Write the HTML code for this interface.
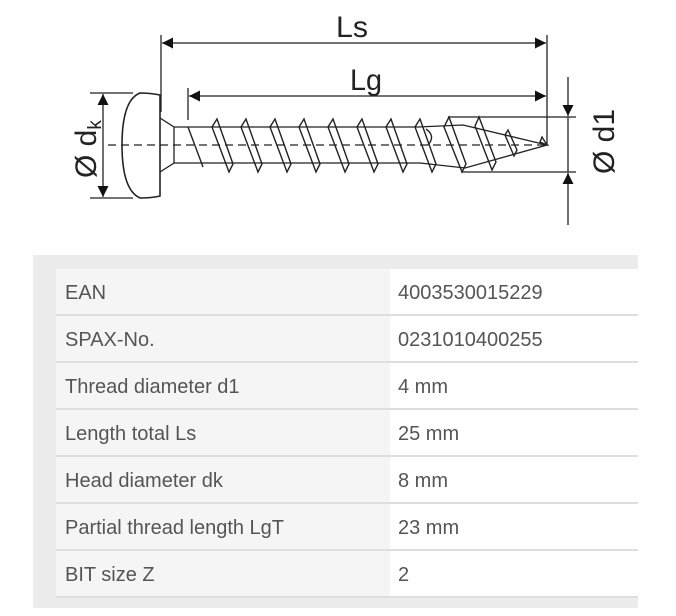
<!DOCTYPE html>
<html><head><style>
body{margin:0;background:#fff;width:676px;height:616px;overflow:hidden;font-family:"Liberation Sans",sans-serif;}
.panel{position:absolute;left:33px;top:255px;width:605px;height:353px;background:#ececec;}
.r{position:absolute;left:56px;width:582px;height:45px;border-bottom:2px solid #dedede;font-size:20px;color:#555;}
.a,.b{position:absolute;top:0;height:45px;line-height:48px;}
.a{left:0;width:334px;background:#f5f5f5;padding-left:9px;box-sizing:border-box;}
.b{left:334px;width:248px;background:#fff;padding-left:8px;box-sizing:border-box;}
</style></head><body>
<svg width="676" height="250" style="position:absolute;left:0;top:0" xmlns="http://www.w3.org/2000/svg">
<defs><marker id="ar" viewBox="0 0 10 10" refX="10" refY="5" markerWidth="17" markerHeight="11" markerUnits="userSpaceOnUse" orient="auto-start-reverse"><path d="M0,0L10,5L0,10z" fill="#111"/></marker></defs>
<g stroke="#222" stroke-width="1.3" fill="none">
<line x1="161" y1="35" x2="161" y2="112"/>
<line x1="547" y1="35" x2="547" y2="145"/>
<line x1="188" y1="88" x2="188" y2="120"/>
<line x1="162" y1="43" x2="546" y2="43" marker-start="url(#ar)" marker-end="url(#ar)"/>
<line x1="189" y1="96" x2="546" y2="96" marker-start="url(#ar)" marker-end="url(#ar)"/>
<line x1="90" y1="93" x2="133" y2="93"/><line x1="90" y1="198" x2="133" y2="198"/>
<line x1="103" y1="94" x2="103" y2="197" marker-start="url(#ar)" marker-end="url(#ar)"/>
<line x1="448" y1="117" x2="576" y2="117"/><line x1="462" y1="172" x2="576" y2="172"/>
<line x1="568" y1="77" x2="568" y2="116" marker-end="url(#ar)"/>
<line x1="568" y1="225" x2="568" y2="173" marker-end="url(#ar)"/>
<line x1="568" y1="117" x2="568" y2="172"/>
<path d="M160,95 Q150,93 140,93 Q122,100 122,145 Q122,190 140,198 Q152,198 160,196 Z" stroke-width="1.6"/>
<path d="M160,118 L174,127 L174,163 L160,172"/>
<path d="M174,127 L418,127 L463,125 L547,145 L465,168 L420,163 L174,163"/>
<line x1="108" y1="145" x2="545" y2="145" stroke-dasharray="8,5"/>
<g stroke-width="1.4">
<path d="M188,127 L203,167"/>
<path d="M217,119 L212,127 L229,172 L233,164 Z"/>
<path d="M246,119 L241,127 L258,172 L262,164 Z"/>
<path d="M275,119 L270,127 L287,172 L291,164 Z"/>
<path d="M304,119 L299,127 L316,172 L320,164 Z"/>
<path d="M333,119 L328,127 L345,172 L349,164 Z"/>
<path d="M362,119 L357,127 L374,172 L378,164 Z"/>
<path d="M391,119 L386,127 L403,172 L407,164 Z"/>
<path d="M420,119 L415,127 L432,172 L436,164 Z"/>
<path d="M449,117 L444,127 L462,172 L466,164 Z"/>
<path d="M479,117 L475,126 L492,170 L496,162 Z"/>
<path d="M508,130 L505,135 L514,156 L517,150 Z"/>
<path d="M542,137 L540,142 L547,145 Z"/>
<path d="M426,129 Q436,136 428,145"/>
</g></g>
<g fill="#222" font-size="30">
<text x="336" y="37" textLength="32" lengthAdjust="spacingAndGlyphs">Ls</text>
<text x="350" y="90" textLength="32" lengthAdjust="spacingAndGlyphs">Lg</text>
<text transform="translate(96,178) rotate(-90)">Ø d<tspan font-size="19" dy="5">k</tspan></text>
<text transform="translate(614,174) rotate(-90)">Ø d1</text>
</g>
</svg>
<div class="panel"></div>
<div class="r" style="top:269px"><div class="a">EAN</div><div class="b">4003530015229</div></div>
<div class="r" style="top:316px"><div class="a">SPAX-No.</div><div class="b">0231010400255</div></div>
<div class="r" style="top:363px"><div class="a">Thread diameter d1</div><div class="b">4 mm</div></div>
<div class="r" style="top:410px"><div class="a">Length total Ls</div><div class="b">25 mm</div></div>
<div class="r" style="top:457px"><div class="a">Head diameter dk</div><div class="b">8 mm</div></div>
<div class="r" style="top:504px"><div class="a">Partial thread length LgT</div><div class="b">23 mm</div></div>
<div class="r" style="top:551px"><div class="a">BIT size Z</div><div class="b">2</div></div>
</body></html>
